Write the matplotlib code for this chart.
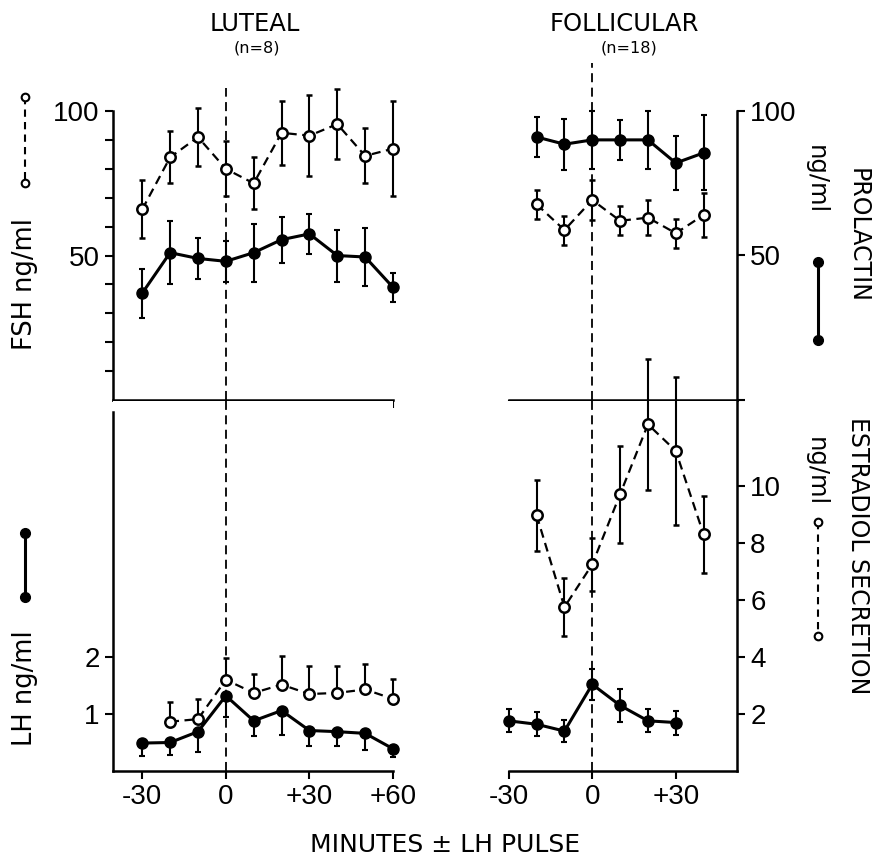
import matplotlib
matplotlib.use("Agg")
import matplotlib.pyplot as plt
from matplotlib.lines import Line2D

W, H = 873, 863

# luteal phase (n=8)
lut_min = [-30, -20, -10, 0, 10, 20, 30, 40, 50, 60]
lut_fsh = [66, 84, 91, 80, 75, 92.5, 91.5, 95.5, 84.5, 87]
lut_fsh_err = [10, 9, 10, 9.5, 9, 11, 14, 12, 9.5, 16.5]
lut_prl = [37, 51, 49, 48, 51, 55.5, 57.5, 50, 49.5, 39]
lut_prl_err = [8.5, 11, 7, 7, 10, 8, 7, 9, 10, 5]
lut_lh = [0.49, 0.5, 0.69, 1.32, 0.88, 1.06, 0.71, 0.69, 0.66, 0.39]
lut_lh_err = [0.22, 0.22, 0.36, 0.38, 0.26, 0.43, 0.27, 0.26, 0.3, 0.15]
lut_e2_min = [-20, -10, 0, 10, 20, 30, 40, 50, 60]
lut_e2 = [1.73, 1.82, 3.2, 2.74, 3.03, 2.7, 2.74, 2.86, 2.53]
lut_e2_err = [0.7, 0.7, 0.76, 0.65, 1.0, 0.97, 0.93, 0.9, 0.7]

# follicular phase (n=18)
fol_min = [-20, -10, 0, 10, 20, 30, 40]
fol_prl = [91, 88.5, 90, 90, 90, 82, 85.5]
fol_prl_err = [7, 8.8, 10, 7, 10, 9.5, 13]
fol_fsh = [67.7, 58.8, 69.2, 62, 63.1, 57.7, 64]
fol_fsh_err = [5, 5, 7, 5, 6, 5, 7.5]
fol_lh_min = [-30, -20, -10, 0, 10, 20, 30]
fol_lh = [0.88, 0.82, 0.7, 1.52, 1.15, 0.88, 0.85]
fol_lh_err = [0.2, 0.21, 0.19, 0.27, 0.29, 0.2, 0.21]
fol_e2 = [8.97, 5.75, 7.25, 9.71, 12.16, 11.23, 8.3]
fol_e2_err = [1.25, 1.03, 0.93, 1.7, 2.3, 2.6, 1.35]

TEXT = ['DejaVu Sans']
DIGITS = ['Liberation Sans', 'DejaVu Sans']

solid = dict(fmt='-o', color='k', lw=2.2, ms=8, mfc='k', mec='k',
             elinewidth=1.5, capsize=2.5, capthick=1.5)
dashed = dict(fmt='-o', ls=(0, (4, 2.5)), color='k', lw=1.6, ms=7.5,
              mfc='white', mec='k', mew=1.8, elinewidth=1.5, capsize=2.5,
              capthick=1.5)


def box(x0, top, x1, bot):
    return [x0 / W, 1 - bot / H, (x1 - x0) / W, (bot - top) / H]


def style(ax):
    for s in ax.spines.values():
        s.set_visible(False)
        s.set_linewidth(1.8)
    ax.tick_params(direction='out', length=6, width=1.5, labelsize=20)
    for lab in ax.get_xticklabels() + ax.get_yticklabels():
        lab.set_family(DIGITS)


def noclip(ax):
    for a in ax.lines + list(ax.collections):
        a.set_clip_on(False)


fig = plt.figure(figsize=(W / 100, H / 100), dpi=100)

# ---- luteal, top: FSH and prolactin
ax = fig.add_axes(box(113, 88, 393, 400))
ax.set_xlim(-40.5, 60)
ax.set_ylim(0, 108)
ax.axvline(0, color='k', lw=1.3, ls=(0, (5, 3)), zorder=0)
ax.errorbar(lut_min, lut_fsh, yerr=lut_fsh_err, **dashed)
ax.errorbar(lut_min, lut_prl, yerr=lut_prl_err, **solid)
ax.set_yticks([50, 100])
ax.set_yticks(range(10, 100, 10), minor=True)
ax.set_xticks([-30, 0, 30, 60])
ax.set_xticklabels([])
style(ax)
ax.tick_params(which='minor', direction='out', length=6, width=1.5)
ax.spines['left'].set_visible(True)
ax.spines['left'].set_bounds(0, 100)
ax.spines['bottom'].set_visible(True)
ax.spines['bottom'].set_bounds(-40.5, 60)
noclip(ax)

# ---- follicular, top
ax = fig.add_axes(box(506, 63, 737, 400))
ax.set_xlim(-31, 52)
ax.set_ylim(0, 116.6)
ax.axvline(0, color='k', lw=1.3, ls=(0, (5, 3)), zorder=0)
ax.errorbar(fol_min, fol_prl, yerr=fol_prl_err, **solid)
ax.errorbar(fol_min, fol_fsh, yerr=fol_fsh_err, **dashed)
ax.yaxis.tick_right()
ax.set_yticks([0, 50, 100])
ax.set_yticklabels(['', '50', '100'])
ax.set_xticks([-30])
ax.set_xticklabels([])
style(ax)
ax.spines['right'].set_visible(True)
ax.spines['right'].set_bounds(0, 100)
ax.spines['bottom'].set_visible(True)
ax.spines['bottom'].set_bounds(-30, 52)
noclip(ax)

# ---- luteal, bottom: LH and estradiol
ax = fig.add_axes(box(113, 401, 393, 771))
ax.set_xlim(-40.5, 60)
ax.set_ylim(0, 6.49)
ax.axvline(0, color='k', lw=1.3, ls=(0, (5, 3)), zorder=0)
ax.errorbar(lut_min, lut_lh, yerr=[lut_lh_err, [0] * len(lut_lh)], **solid)
ax.set_yticks([1, 2])
ax.set_xticks([-30, 0, 30, 60])
ax.set_xticklabels(['-30', '0', '+30', '+60'])
style(ax)
ax.spines['left'].set_visible(True)
ax.spines['left'].set_bounds(0, 6.3)
ax.spines['bottom'].set_visible(True)
ax.spines['bottom'].set_bounds(-40.5, 60)
noclip(ax)
ax2 = ax.twinx()
ax2.set_ylim(0, 12.98)
ax2.errorbar(lut_e2_min, lut_e2, yerr=[[0] * len(lut_e2), lut_e2_err], **dashed)
ax2.set_yticks([])
style(ax2)
noclip(ax2)

# ---- follicular, bottom
ax = fig.add_axes(box(506, 401, 737, 771))
ax.set_xlim(-31, 52)
ax.set_ylim(0, 6.49)
ax.axvline(0, color='k', lw=1.3, ls=(0, (5, 3)), zorder=0)
ax.errorbar(fol_lh_min, fol_lh, yerr=fol_lh_err, **solid)
ax.set_yticks([])
ax.set_xticks([-30, 0, 30])
ax.set_xticklabels(['-30', '0', '+30'])
style(ax)
ax.spines['bottom'].set_visible(True)
ax.spines['bottom'].set_bounds(-30, 52)
noclip(ax)
ax2 = ax.twinx()
ax2.set_ylim(0, 12.98)
ax2.errorbar(fol_min, fol_e2, yerr=fol_e2_err, **dashed)
ax2.set_yticks([2, 4, 6, 8, 10])
style(ax2)
ax2.spines['right'].set_visible(True)
noclip(ax2)


# ---- text
def ftext(x, y, s, size, rot=0, fam=TEXT):
    fig.text(x / W, 1 - y / H, s, ha='center', va='center', rotation=rot,
             fontsize=size, family=fam)


ftext(255, 24, 'LUTEAL', 17.5)
ftext(257, 48, '(n=8)', 11.5)
ftext(624, 24, 'FOLLICULAR', 17.5)
ftext(629, 48, '(n=18)', 11.5)
ftext(445, 845, 'MINUTES \u00b1 LH PULSE', 18)

ftext(25, 284, 'FSH ng/ml', 18.5, 90)
ftext(25, 688, 'LH ng/ml', 18.5, 90)
ftext(858, 236, 'PROLACTIN', 17, 270)
ftext(816, 180, 'ng/ml', 17.5, 270)
ftext(858, 556, 'ESTRADIOL SECRETION', 17, 270)
ftext(816, 472, 'ng/ml', 17.5, 270)


# legend keys next to the axis titles
def key(x, y0, y1, filled):
    if filled:
        kw = dict(ls='-', lw=2.2, marker='o', ms=7, mfc='k', mec='k')
    else:
        kw = dict(ls=(0, (3.5, 2.5)), lw=1.5, marker='o', ms=5.5,
                  mfc='white', mec='k', mew=1.5)
    fig.add_artist(Line2D([x / W, x / W], [1 - y0 / H, 1 - y1 / H],
                          color='k', transform=fig.transFigure, **kw))


key(25, 97, 183, False)
key(25, 533, 597, True)
key(818, 262, 340, True)
key(818, 522, 636, False)

fig.savefig('out.png', dpi=100)
